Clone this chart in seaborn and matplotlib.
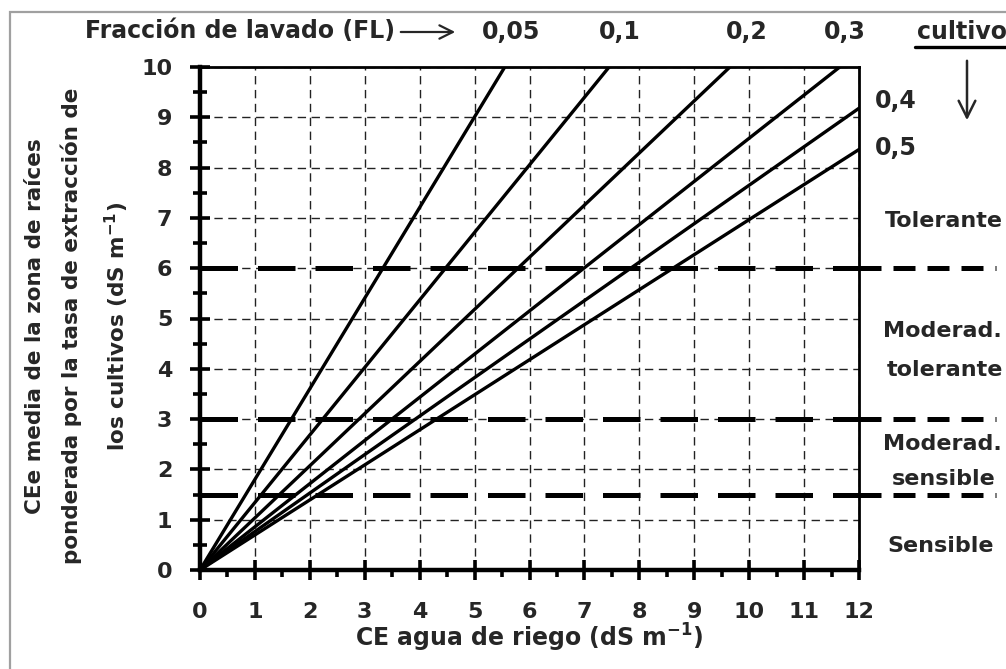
import matplotlib
matplotlib.use('Agg')
import numpy as np
import pandas as pd
import seaborn as sns
import matplotlib.pyplot as plt
from matplotlib.ticker import MultipleLocator
from matplotlib.lines import Line2D
from matplotlib.patches import Rectangle, FancyArrowPatch

# fraccion de lavado and where each line leaves the plot
fl_labels = ['0,05', '0,1', '0,2', '0,3', '0,4', '0,5']
end_x = [5.55, 7.45, 9.65, 11.65, 12.0, 12.0]
end_y = [10.0, 10.0, 10.0, 10.0, 9.18, 8.36]

# salt tolerance limits of the crops (CEe)
zone_limits = [6.0, 3.0, 1.5]
zone_labels = ['Tolerante', 'Moderad.', 'tolerante', 'Moderad.', 'sensible', 'Sensible']

x_ticks = list(range(0, 13))
y_ticks = list(range(0, 11))

W, H = 1006, 669
TXT = '#262626'
FS = 17


def px(x, y):
    # pixel position -> figure fraction
    return x / W, 1 - y / H


def build_frame():
    rows = []
    for lab, xe, ye in zip(fl_labels, end_x, end_y):
        rows.append({'fl': lab, 'ce_agua': 0.0, 'ce_e': 0.0})
        rows.append({'fl': lab, 'ce_agua': xe, 'ce_e': ye})
    return pd.DataFrame(rows)


def plot_chart(df):
    fig = plt.figure(figsize=(W / 100, H / 100), dpi=100)
    ax = fig.add_axes([200 / W, 99 / H, 659 / W, 503 / H])

    ax.grid(True, which='major', color='#222222', lw=1.0, linestyle=(0, (6, 4)), zorder=1)

    sns.lineplot(data=df, x='ce_agua', y='ce_e', units='fl', estimator=None,
                 color='black', lw=2.4, ax=ax, legend=False, zorder=3)

    for lim in zone_limits:
        ax.plot([0, 12], [lim, lim], color='black', lw=3.6, linestyle=(0, (7.5, 4)),
                dash_capstyle='butt', zorder=4)
        ax.plot([12, 14.5], [lim, lim], color='black', lw=3.6, linestyle=(0, (4.4, 2.4)),
                dash_capstyle='butt', clip_on=False, zorder=4)

    ax.set_xlim(0, 12)
    ax.set_ylim(0, 10)
    ax.set_xticks(x_ticks)
    ax.set_yticks(y_ticks)
    ax.xaxis.set_minor_locator(MultipleLocator(0.5))
    ax.yaxis.set_minor_locator(MultipleLocator(0.5))
    # seaborn's white style switches the ticks off, turn them back on
    ax.tick_params(which='both', left=True, bottom=True, top=False, right=False)
    ax.tick_params(which='major', direction='inout', length=14, width=2.6, color='black',
                   labelsize=16, labelcolor=TXT)
    ax.tick_params(axis='x', which='major', pad=16)
    ax.tick_params(axis='y', which='major', pad=13)
    ax.tick_params(axis='x', which='minor', direction='out', length=5, width=2.6, color='black')
    ax.tick_params(axis='y', which='minor', direction='inout', length=10, width=2.6, color='black')
    for lab in ax.get_xticklabels() + ax.get_yticklabels():
        lab.set_fontweight('bold')

    for side in ['left', 'bottom']:
        ax.spines[side].set_linewidth(3.2)
    for side in ['top', 'right']:
        ax.spines[side].set_linewidth(2.0)
    for sp in ax.spines.values():
        sp.set_color('black')
        sp.set_visible(True)

    ax.set_xlabel('')
    ax.set_ylabel('')

    # axis titles
    fig.text(*px(529, 647), 'CE agua de riego (dS m$^{-1}$)', ha='center', va='baseline',
             fontsize=FS, fontweight='bold', color=TXT)
    fig.text(*px(78, 326),
             'CEe media de la zona de raíces\nponderada por la tasa de extracción de\nlos cultivos (dS m$^{-1}$)',
             ha='center', va='center', rotation=90, multialignment='center',
             linespacing=1.9, fontsize=15.5, fontweight='bold', color=TXT)

    # top row
    fig.text(*px(85, 38), 'Fracción de lavado (FL)', ha='left', va='baseline',
             fontsize=FS, fontweight='bold', color=TXT)
    fig.add_artist(FancyArrowPatch(px(398, 32), px(458, 32),
                   transform=fig.transFigure, arrowstyle='->', mutation_scale=24,
                   lw=1.6, color=TXT))
    top_pos = [511, 620, 747, 845]
    for lab, x in zip(fl_labels[:4], top_pos):
        fig.text(*px(x, 39), lab, ha='center', va='baseline',
                 fontsize=FS, fontweight='bold', color=TXT)
    fig.text(*px(875, 108), fl_labels[4], ha='left', va='baseline',
             fontsize=FS, fontweight='bold', color=TXT)
    fig.text(*px(875, 155), fl_labels[5], ha='left', va='baseline',
             fontsize=FS, fontweight='bold', color=TXT)

    fig.text(*px(917, 39), 'cultivo', ha='left', va='baseline',
             fontsize=FS, fontweight='bold', color=TXT)
    fig.add_artist(Line2D([915 / W, 1.0], [1 - 47 / H, 1 - 47 / H],
                          transform=fig.transFigure, color='black', lw=2.4))
    fig.add_artist(FancyArrowPatch(px(967, 58), px(967, 123),
                   transform=fig.transFigure, arrowstyle='->', mutation_scale=30,
                   lw=1.8, color=TXT))

    # crop tolerance classes on the right
    zone_pos = [(885, 227), (883, 337), (887, 376), (883, 450), (892, 485), (887, 552)]
    for lab, (x, y) in zip(zone_labels, zone_pos):
        fig.text(*px(x, y), lab, ha='left', va='baseline',
                 fontsize=16, fontweight='bold', color=TXT)

    # thin frame around the picture
    fig.add_artist(Rectangle(px(10, 700), 1.2, (700 - 12) / H, transform=fig.transFigure,
                             fill=False, edgecolor='#a0a0a0', lw=1.6))

    fig.savefig('out.png', dpi=100)


if __name__ == '__main__':
    sns.set_style('white')
    plt.rcParams['font.family'] = ['DejaVu Sans']
    plt.rcParams['mathtext.fontset'] = 'dejavusans'
    plt.rcParams['mathtext.default'] = 'bf'
    data = build_frame()
    plot_chart(data)
